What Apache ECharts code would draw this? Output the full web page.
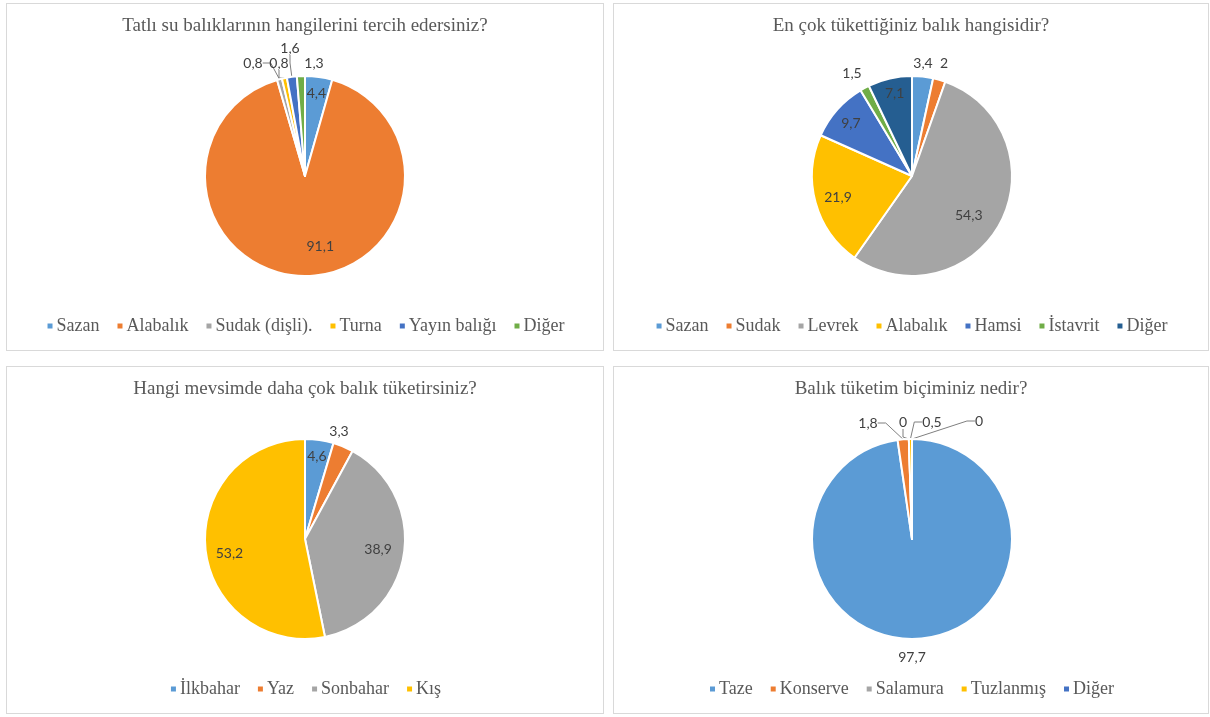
<!DOCTYPE html>
<html>
<head>
<meta charset="utf-8">
<script src="https://cdn.jsdelivr.net/npm/echarts@6/dist/echarts.min.js"></script>
<style>
  html, body { margin: 0; padding: 0; background: #fff; }
  body { width: 1210px; height: 717px; position: relative; overflow: hidden; }
  .panel { position: absolute; border: 1px solid #d9d9d9; box-sizing: border-box; background: #fff; }
</style>
</head>
<body>
<div id="c1" class="panel" style="left:6px;top:3px;width:598px;height:348px"></div>
<div id="c2" class="panel" style="left:613px;top:3px;width:596px;height:348px"></div>
<div id="c3" class="panel" style="left:6px;top:366px;width:598px;height:348px"></div>
<div id="c4" class="panel" style="left:613px;top:366px;width:596px;height:348px"></div>
<script>
// Survey results (percent of respondents)
const titles = [
  'Tatlı su balıklarının hangilerini tercih edersiniz?',
  'En çok tükettiğiniz balık hangisidir?',
  'Hangi mevsimde daha çok balık tüketirsiniz?',
  'Balık tüketim biçiminiz nedir?'
];

const freshwaterNames = ['Sazan', 'Alabalık', 'Sudak (dişli).', 'Turna', 'Yayın balığı', 'Diğer'];
const freshwaterValues = [4.4, 91.1, 0.8, 0.8, 1.6, 1.3];

const mostEatenNames = ['Sazan', 'Sudak', 'Levrek', 'Alabalık', 'Hamsi', 'İstavrit', 'Diğer'];
const mostEatenValues = [3.4, 2, 54.3, 21.9, 9.7, 1.5, 7.1];

const seasonNames = ['İlkbahar', 'Yaz', 'Sonbahar', 'Kış'];
const seasonValues = [4.6, 3.3, 38.9, 53.2];

const formNames = ['Taze', 'Konserve', 'Salamura', 'Tuzlanmış', 'Diğer'];
const formValues = [97.7, 1.8, 0, 0.5, 0];

const palette = ['#5B9BD5', '#ED7D31', '#A5A5A5', '#FFC000', '#4472C4', '#70AD47', '#255E91'];

// Label placement, per slice:
//   in:   [dx, dy] nudge of a label drawn inside the slice
//   line: [dx, dy] spot above the pie (from its centre), joined by a leader line
//   out:  [dx, dy] spot outside the pie, no leader line
const labelPlacement = {
  c1: [['in', 0, 0], ['in', 15, -13], ['line', -52, -113], ['line', -26, -113], ['line', -15, -128], ['out', 9, -113]],
  c2: [['out', 11, -113], ['out', 32, -113], ['in', -17, 1], ['in', 6, -1], ['in', 1, 3], ['out', -60, -103], ['in', 1, -2]],
  c3: [['in', 0, 0], ['out', 34, -108], ['in', -9, -2], ['in', 7, 6]],
  c4: [['out', 0, 118], ['line', -44, -116], ['line', -9, -117], ['line', 20, -117], ['line', 67, -118]]
};

const R = 100;
const CENTER = [298, 172];
const fmt = v => String(v).replace('.', ',');
const labelText = { color: '#404040', fontFamily: 'Lato, "Open Sans", sans-serif', fontSize: 14 };

function build(el, title, names, values) {
  const chart = echarts.init(document.getElementById(el), null, { renderer: 'canvas' });
  const place = labelPlacement[el];
  const data = names.map((n, i) => ({ name: n, value: values[i] }));

  // main slices; carries the labels that sit outside the pie
  const main = {
    type: 'pie',
    center: CENTER,
    radius: [0, R],
    startAngle: 90,
    clockwise: true,
    avoidLabelOverlap: false,
    itemStyle: { borderColor: '#fff', borderWidth: 2 },
    emphasis: { disabled: true },
    labelLine: { length: 8, length2: 8, lineStyle: { color: '#7f7f7f', width: 1 } },
    labelLayout: p => {
      const pl = place[p.dataIndex];
      if (pl[0] === 'in') return {};
      return { x: CENTER[0] + pl[1], y: CENTER[1] + pl[2], align: 'center', verticalAlign: 'middle' };
    },
    data: data.map((d, i) => {
      const m = place[i][0];
      const outside = m !== 'in';
      return Object.assign({}, d, {
        label: Object.assign({ show: outside, position: 'outside', formatter: p => fmt(p.value) }, labelText),
        labelLine: { show: m === 'line' }
      });
    })
  };

  // transparent disc of twice the radius: its inside labels land at 0.8 R along each slice's middle
  const ring = {
    type: 'pie',
    center: CENTER,
    radius: [0, R * 1.6],
    startAngle: 90,
    clockwise: true,
    silent: true,
    avoidLabelOverlap: false,
    itemStyle: { color: 'rgba(0,0,0,0)' },
    labelLine: { show: false },
    labelLayout: p => {
      const pl = place[p.dataIndex];
      return { dx: pl[1], dy: pl[2] };
    },
    data: data.map((d, i) => Object.assign({}, d, {
      label: Object.assign({ show: place[i][0] === 'in', position: 'inside', formatter: p => fmt(p.value) }, labelText)
    }))
  };

  chart.setOption({
    animation: false,
    color: palette,
    title: {
      text: title,
      left: 'center',
      top: 8,
      textStyle: { fontFamily: '"Liberation Serif", "Times New Roman", serif', fontSize: 19, fontWeight: 'normal', color: '#595959' }
    },
    legend: {
      bottom: 10,
      left: 'center',
      icon: 'rect',
      itemWidth: 7,
      itemHeight: 7,
      itemGap: 16,
      selectedMode: false,
      data: names,
      textStyle: { fontFamily: '"Liberation Serif", "Times New Roman", serif', fontSize: 18, color: '#595959', padding: [0, 0, 0, -2] }
    },
    series: [main, ring]
  });
}

build('c1', titles[0], freshwaterNames, freshwaterValues);
build('c2', titles[1], mostEatenNames, mostEatenValues);
build('c3', titles[2], seasonNames, seasonValues);
build('c4', titles[3], formNames, formValues);
</script>
</body>
</html>
